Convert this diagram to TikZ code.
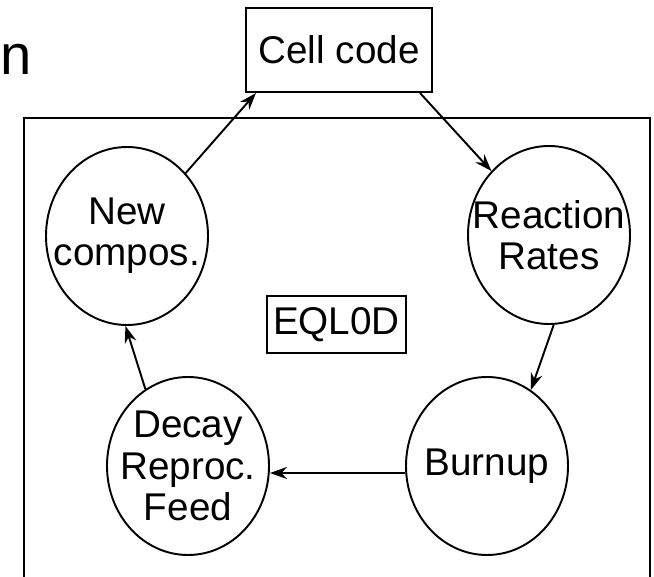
\documentclass[tikz,border=0pt]{standalone}
\usepackage{fontspec}
\setmainfont{Liberation Sans}
\usetikzlibrary{shapes,arrows.meta,positioning,calc}

\begin{document}
\begin{tikzpicture}[
    stage/.style={draw, ellipse, line width=1.1pt, minimum width=3.24cm, minimum height=3.56cm, inner sep=-2cm, align=center, font=\fontsize{22}{23.5}\selectfont},
    boxed/.style={draw, rectangle, line width=1.2pt, font=\fontsize{22}{24}\selectfont},
    flow/.style={-{Stealth[length=3.4mm,width=2.4mm]}, line width=1.1pt}
]
    \useasboundingbox (0,0) rectangle (13.08,11.52);

    % Label at the edge
    \node[anchor=base west, inner sep=0pt, font=\fontsize{32}{40}\selectfont] (tag) at (0.01,10.02) {n};

    % Outer frame
    \draw[line width=1.3pt] (0.48,-0.5) rectangle (13.0,9.16);

    % Boxes
    \node[boxed, minimum width=3.72cm, minimum height=1.68cm] (cell) at (6.78,10.52) {Cell code};
    \node[boxed, line width=1pt, minimum width=2.74cm, minimum height=1.14cm] (eql) at (6.73,5.03) {EQL0D};

    % Stages of the cycle
    \node[stage] (newc) at (2.54,6.8) {New\\compos.};
    \node[stage] (react) at (10.98,6.82) {Reaction\\Rates};
    \node[stage] (burn) at (9.74,2.2) {Burnup};
    \node[stage] (decay) at (3.76,2.2) {Decay\\Reproc.\\Feed};

    % Arrows
    \draw[flow] (newc.47) -- ([xshift=0.22cm]cell.south west);
    \draw[flow] ([xshift=-0.26cm]cell.south east) -- (react.132);
    \draw[flow] (react.273) -- (burn.60);
    \draw[flow] ([yshift=-0.14cm]burn.west) -- ([yshift=-0.14cm]decay.east);
    \draw[flow] (decay.119) -- (newc.269);
\end{tikzpicture}
\end{document}
